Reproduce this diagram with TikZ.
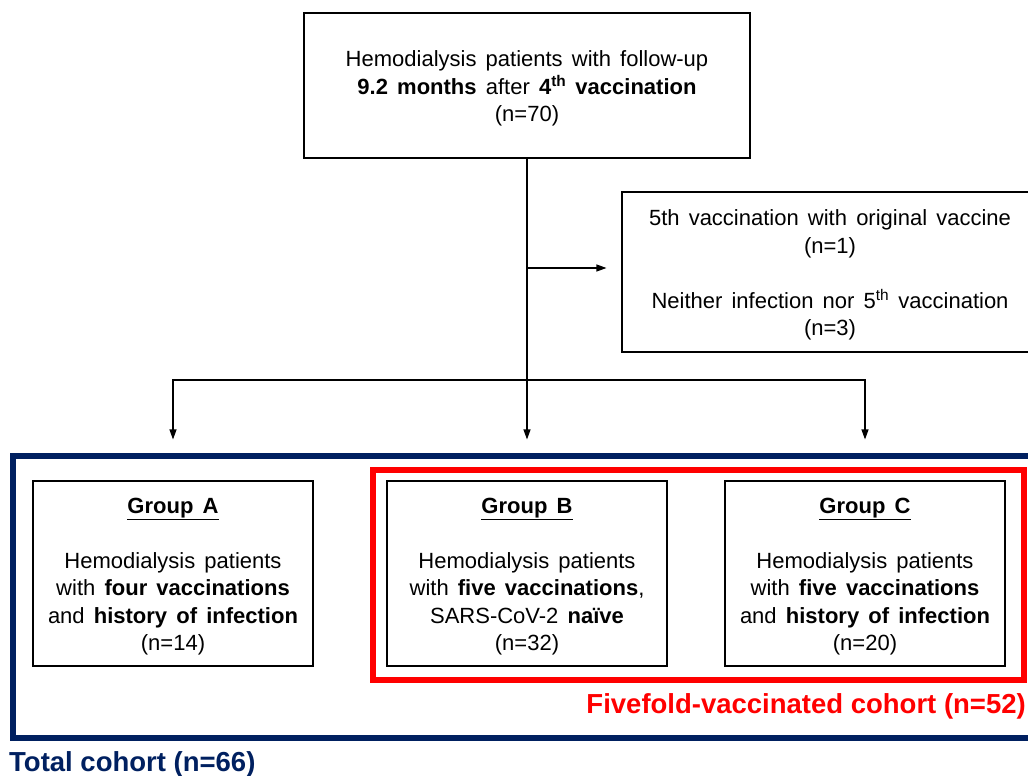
\documentclass[tikz,border=0pt]{standalone}
\usepackage{fontspec}
\setmainfont[WordSpace=1.5]{Liberation Sans}
\newfontfamily\labelfont{Liberation Sans}
\usetikzlibrary{arrows.meta}
\definecolor{navy}{HTML}{002060}
\definecolor{cred}{HTML}{FF0000}
\newcommand{\topstrut}{\rule{0pt}{22pt}}
\tikzset{
  box/.style={draw=black, line width=1.1pt, align=center, inner sep=0pt,
    font=\fontsize{22}{27.5}\selectfont},
  gbox/.style={box, minimum width=280pt, minimum height=185pt},
  arr/.style={line width=1.1pt, -{Triangle[length=10pt,width=7pt]}},
  ln/.style={line width=1.1pt},
  cohort/.style={font=\labelfont\fontsize{27.5}{30}\selectfont\bfseries, inner sep=0pt}
}
\begin{document}
\begin{tikzpicture}[x=1pt,y=-1pt]
\useasboundingbox (0,0) rectangle (1028,776);
% frames
\draw[navy, line width=6pt] (13,456) rectangle (1045,738);
\draw[cred, line width=6pt] (373,470) rectangle (1024,680);
% boxes
\node[box, minimum width=446pt, minimum height=145pt] (top) at (527,85.5)
  {\topstrut Hemodialysis patients with follow-up\\
   \textbf{9.2 months} after \textbf{4\textsuperscript{th} vaccination}\\
   (n=70)};
\node[box, minimum width=416pt, minimum height=160pt] (side) at (830,272)
  {\topstrut 5th vaccination with original vaccine\\
   (n=1)\\[27.5pt]
   Neither infection nor 5\textsuperscript{th} vaccination\\
   (n=3)};
\node[gbox] (gA) at (173,573.5)
  {\topstrut\textbf{\underline{Group A}}\\[27.5pt]
   Hemodialysis patients\\
   with \textbf{four vaccinations}\\
   and \textbf{history of infection}\\
   (n=14)};
\node[gbox] (gB) at (527,573.5)
  {\topstrut\textbf{\underline{Group B}}\\[27.5pt]
   Hemodialysis patients\\
   with \textbf{five vaccinations},\\
   SARS-CoV-2 \textbf{naïve}\\
   (n=32)};
\node[gbox] (gC) at (865,573.5)
  {\topstrut\textbf{\underline{Group C}}\\[27.5pt]
   Hemodialysis patients\\
   with \textbf{five vaccinations}\\
   and \textbf{history of infection}\\
   (n=20)};
% labels
\node[cohort, text=cred, anchor=east] (lred) at (1026,706) {Fivefold-vaccinated cohort (n=52)};
\node[cohort, text=navy, anchor=west] (lnavy) at (9,764) {Total cohort (n=66)};
% connectors
\coordinate (split) at (527,380);
\coordinate (branch) at (527,268);
\draw[ln] (top.south) -- (split);
\draw[arr, shorten >=15pt] (branch) -- (side.west |- branch);
\draw[arr, shorten >=41pt] (split) -| (gA.north);
\draw[arr, shorten >=41pt] (split) -- (gB.north);
\draw[arr, shorten >=41pt] (split) -| (gC.north);
\end{tikzpicture}
\end{document}
